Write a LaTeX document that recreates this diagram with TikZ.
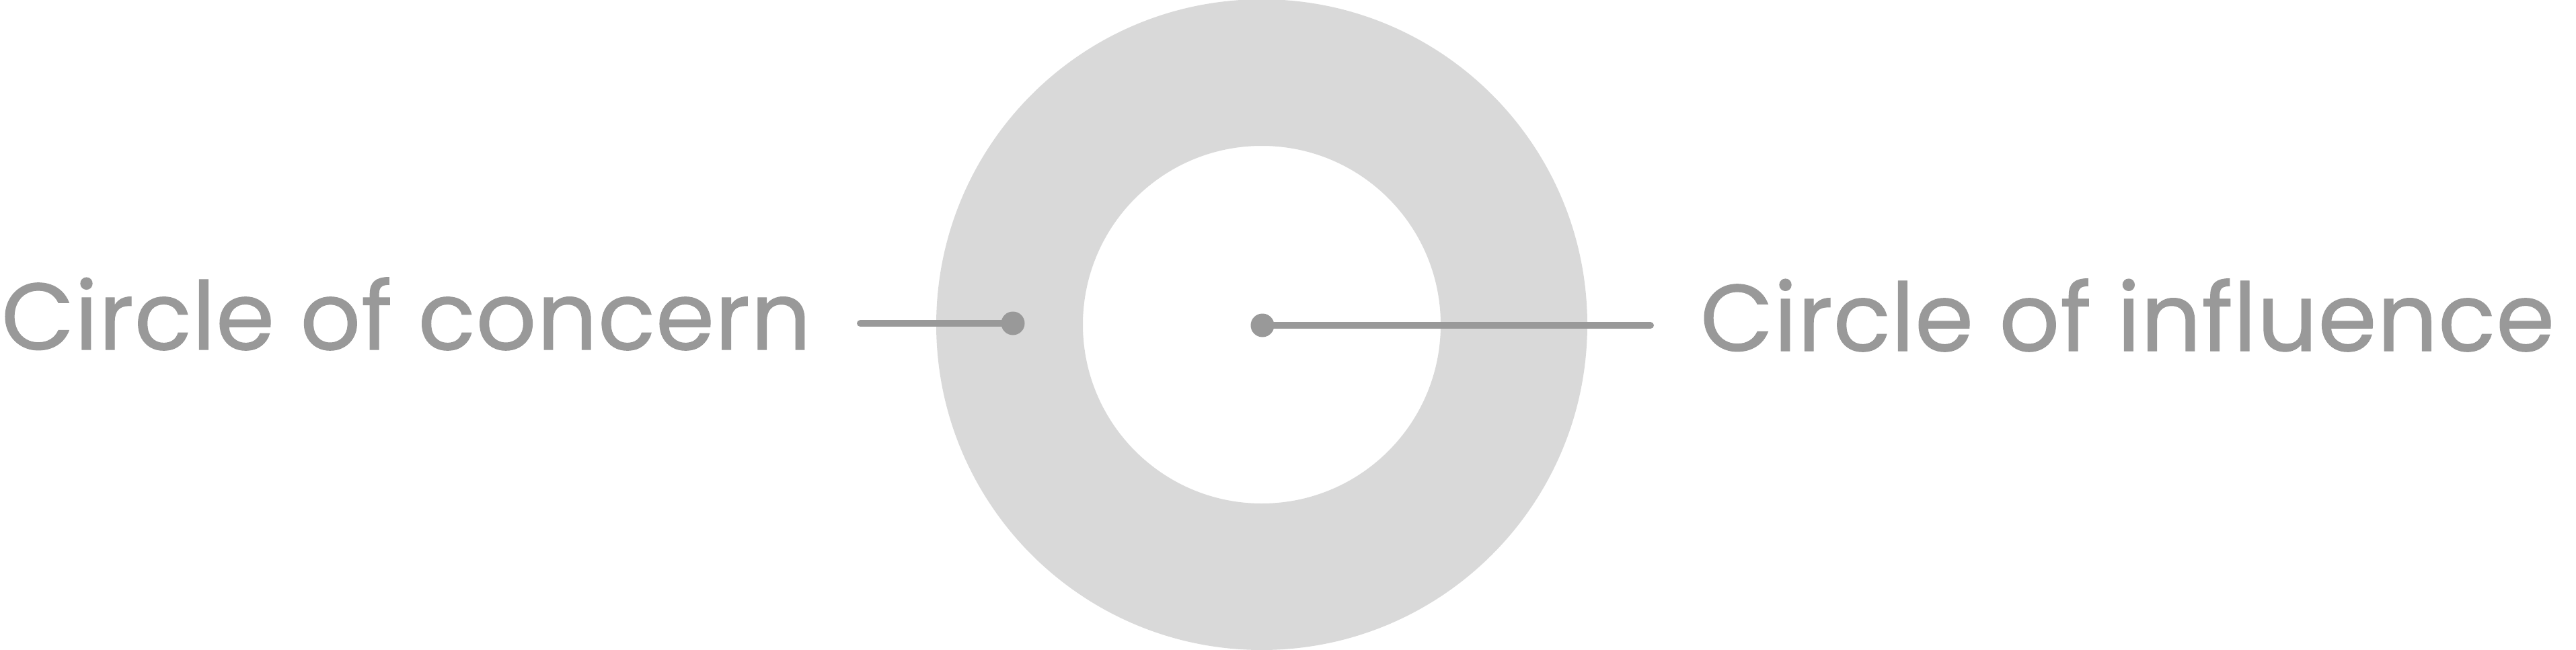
\documentclass[tikz,border=0pt]{standalone}
\usepackage{fontspec}
\setmainfont{Poppins}[FakeBold=0.8,LetterSpace=0.5]
\definecolor{ringgray}{HTML}{D9D9D9}
\definecolor{inkgray}{HTML}{999999}
\tikzset{
  label text/.style={inner sep=0pt, outer sep=0pt, text=inkgray, font=\fontsize{40}{48}\selectfont},
  dotnode/.style={circle, fill=inkgray, inner sep=0pt, minimum size=0.35cm},
  connector/.style={draw=inkgray, line width=0.1cm, line cap=round}
}
\begin{document}
\begin{tikzpicture}
\useasboundingbox (0,0) rectangle (38.30,9.66);
\coordinate (c) at (18.76,4.83);
\fill[ringgray, even odd rule] (c) circle (4.84) (c) circle (2.66);
% left
\node[dotnode] (dl) at (15.06,4.85) {};
\coordinate (el) at (12.79,4.85);
\draw[connector] (el) -- (dl.center);
\node[label text, anchor=base west] (tl) at (0.02,4.46) {Circle of concern};
% right
\node[dotnode] (dr) at (18.77,4.82) {};
\coordinate (er) at (24.54,4.82);
\draw[connector] (dr.center) -- (er);
\node[label text, anchor=base west] (tr) at (25.28,4.44) {Circle of influence};
\end{tikzpicture}
\end{document}
